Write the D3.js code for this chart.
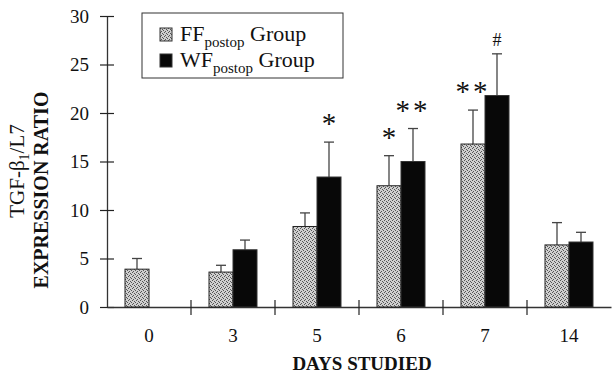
<!DOCTYPE html>
<html>
<head>
<meta charset="utf-8">
<script src="https://cdn.jsdelivr.net/npm/d3@7"></script>
<style>
  body { margin: 0; background: #fff; }
  svg { display: block; font-family: "Liberation Serif", "Times New Roman", serif; }
</style>
</head>
<body>
<div id="chart"></div>
<script>
// Data
const days = ["0", "3", "5", "6", "7", "14"];
const ffMean = [3.9, 3.6, 8.3, 12.5, 16.8, 6.4];
const ffErr = [5.0, 4.3, 9.7, 15.6, 20.3, 8.7];
const wfMean = [null, 5.9, 13.4, 15.0, 21.8, 6.7];
const wfErr = [null, 6.9, 17.0, 18.4, 26.1, 7.7];
const ffMarks = ["", "", "", "*", "**", ""];
const wfMarks = ["", "", "*", "**", "#", ""];
const yTicks = [0, 5, 10, 15, 20, 25, 30];

const W = 612, H = 374;
const svg = d3.select("#chart").append("svg")
    .attr("width", W).attr("height", H);

const defs = svg.append("defs");
// stippled gray fill like the print
const pat = defs.append("pattern")
    .attr("id", "stipple")
    .attr("patternUnits", "userSpaceOnUse")
    .attr("width", 4).attr("height", 4);
pat.append("rect").attr("width", 4).attr("height", 4).attr("fill", "#cfcfcf");
[[0, 0], [2, 1], [1, 3], [3, 2]].forEach(p => {
    pat.append("rect").attr("x", p[0]).attr("y", p[1])
        .attr("width", 1).attr("height", 1).attr("fill", "#555");
});

const x = d3.scaleBand().domain(days).range([107, 611]);
const y = d3.scaleLinear().domain([0, 30]).range([307, 16]);
const bw = 24;

// Y axis
const yAxis = svg.append("g")
    .attr("transform", "translate(107,0)")
    .call(d3.axisLeft(y).tickValues(yTicks).tickSize(0).tickPadding(18));
yAxis.select(".domain").attr("stroke", "#333").attr("stroke-width", 1.3);
yAxis.selectAll(".tick text")
    .attr("font-size", 19).attr("font-family", "Liberation Serif").attr("fill", "#111");
yAxis.selectAll(".tick").append("line")
    .attr("x1", -7).attr("x2", 7).attr("stroke", "#222").attr("stroke-width", 1.2);

// X axis
const xAxis = svg.append("g")
    .attr("transform", "translate(0,307)")
    .call(d3.axisBottom(x).tickSize(0).tickPadding(22));
xAxis.select(".domain").attr("stroke", "#333").attr("stroke-width", 1.3);
xAxis.selectAll(".tick text")
    .attr("font-size", 19).attr("font-family", "Liberation Serif").attr("fill", "#111");
// ticks sit between the day groups
svg.append("g").selectAll("line")
    .data(days.slice(1))
    .join("line")
    .attr("x1", d => x(d)).attr("x2", d => x(d))
    .attr("y1", 300).attr("y2", 315)
    .attr("stroke", "#222").attr("stroke-width", 1.2);

const cx = d => x(d) + x.bandwidth() / 2;

// error bars (upper only), drawn first so bars cover the stem
function errBars(mean, err, off) {
    const g = svg.append("g").attr("stroke", "#444").attr("stroke-width", 1.3);
    days.forEach((d, i) => {
        if (mean[i] == null) return;
        const xc = cx(d) + off;
        g.append("line").attr("x1", xc).attr("x2", xc)
            .attr("y1", y(mean[i])).attr("y2", y(err[i]));
        g.append("line").attr("x1", xc - 5).attr("x2", xc + 5)
            .attr("y1", y(err[i])).attr("y2", y(err[i]));
    });
}
errBars(ffMean, ffErr, -bw / 2);
errBars(wfMean, wfErr, bw / 2);

// bars
svg.append("g").selectAll("rect")
    .data(days.map((d, i) => ({ d, v: ffMean[i] })))
    .join("rect")
    .attr("x", e => cx(e.d) - bw).attr("width", bw)
    .attr("y", e => y(e.v)).attr("height", e => y(0) - y(e.v))
    .attr("fill", "url(#stipple)").attr("stroke", "#222").attr("stroke-width", 1);

svg.append("g").selectAll("rect")
    .data(days.map((d, i) => ({ d, v: wfMean[i] })).filter(e => e.v != null))
    .join("rect")
    .attr("x", e => cx(e.d)).attr("width", bw)
    .attr("y", e => y(e.v)).attr("height", e => y(0) - y(e.v))
    .attr("fill", "#080808").attr("stroke", "#333").attr("stroke-width", 1);

// significance marks
function marks(labels, err, off) {
    svg.append("g").selectAll("text")
        .data(days.map((d, i) => ({ d, t: labels[i], e: err[i] })).filter(e => e.t))
        .join("text")
        .attr("x", e => cx(e.d) + off)
        .attr("y", e => y(e.e) - (e.t === "#" ? 8 : 9))
        .attr("text-anchor", "middle")
        .attr("font-size", e => e.t === "#" ? 18 : 29)
        .attr("letter-spacing", e => e.t.length > 1 ? 3 : 0)
        .attr("fill", "#111")
        .text(e => e.t);
}
marks(ffMarks, ffErr, -bw / 2);
marks(wfMarks, wfErr, bw / 2);

// legend
const lg = svg.append("g");
lg.append("rect").attr("x", 142).attr("y", 13).attr("width", 201).attr("height", 65)
    .attr("fill", "#fff").attr("stroke", "#333").attr("stroke-width", 1);
const items = [{ n: "FF", f: "url(#stipple)", y: 28 }, { n: "WF", f: "#080808", y: 54 }];
items.forEach(it => {
    lg.append("rect").attr("x", 160).attr("y", it.y).attr("width", 12).attr("height", 13)
        .attr("fill", it.f).attr("stroke", "#333");
    const t = lg.append("text").attr("x", 180).attr("y", it.y + 13)
        .attr("font-size", 22).attr("fill", "#111");
    t.append("tspan").text(it.n);
    t.append("tspan").attr("dy", 6).attr("font-size", 15).text("postop");
    t.append("tspan").attr("dy", -6).text(" Group");
});

// axis titles
svg.append("text")
    .attr("transform", "translate(24,171) rotate(-90)")
    .attr("text-anchor", "middle").attr("font-size", 21).attr("fill", "#111")
    .call(t => {
        t.append("tspan").text("TGF-β");
        t.append("tspan").attr("dy", 5).attr("font-size", 14).text("1");
        t.append("tspan").attr("dy", -5).text("/L7");
    });
svg.append("text")
    .attr("transform", "translate(48,190) rotate(-90)")
    .attr("text-anchor", "middle").attr("font-size", 20).attr("font-weight", "bold")
    .attr("fill", "#111").text("EXPRESSION RATIO");
svg.append("text")
    .attr("x", 362).attr("y", 370)
    .attr("text-anchor", "middle").attr("font-size", 19).attr("font-weight", "bold")
    .attr("fill", "#111").text("DAYS STUDIED");
</script>
</body>
</html>
